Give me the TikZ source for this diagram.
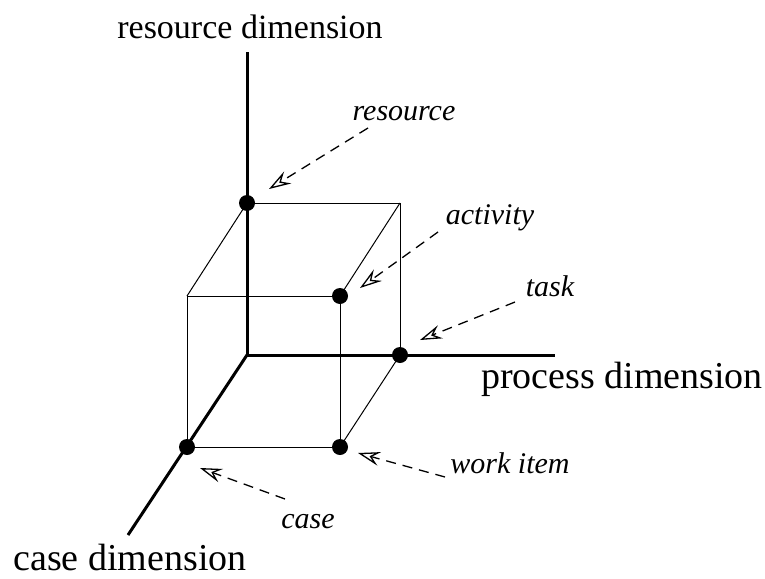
\documentclass[tikz,border=0pt]{standalone}
\usepackage{fontspec}
\setmainfont{Liberation Serif}
\usetikzlibrary{arrows.meta}
\begin{document}
\begin{tikzpicture}[x=1pt,y=-1pt,
  axis/.style={line width=3pt},
  edge/.style={line width=1pt},
  dot/.style={circle,fill=black,inner sep=0pt,minimum size=16pt},
  pointer/.style={dashed,dash pattern=on 10pt off 7pt,line width=1.3pt,
    -{Stealth[open,length=22pt,width=14pt,inset=8pt]}},
  dimlabel/.style={font=\fontsize{38}{42}\selectfont,inner sep=0pt,anchor=base},
  ilabel/.style={font=\fontsize{30}{34}\selectfont\itshape,inner sep=0pt,anchor=base}]
\useasboundingbox (0,0) rectangle (765,578);
% cube corners
\coordinate (O) at (247,355);
\coordinate (RT) at (247,52);
\coordinate (PE) at (555,355);
\coordinate (CE) at (128,535);
\coordinate (B1) at (247,203);
\coordinate (B2) at (400,203);
\coordinate (B3) at (400,355);
\coordinate (F1) at (187,296);
\coordinate (F2) at (340,296);
\coordinate (F3) at (340,447);
\coordinate (F4) at (187,447);
% thin cube edges
\draw[edge] (B1) -- (B2) -- (B3);
\draw[edge] (B1) -- (F1);
\draw[edge] (B2) -- (F2);
\draw[edge] (B3) -- (F3);
\draw[edge] (F1) -- (F2) -- (F3) -- (F4) -- cycle;
% axes
\draw[axis] (O) -- (RT);
\draw[axis] (O) -- (PE);
\draw[axis] (O) -- (CE);
% dots
\node[dot] (dres) at (B1) {};
\node[dot] (dact) at (F2) {};
\node[dot] (dtask) at (B3) {};
\node[dot] (dcase) at (F4) {};
\node[dot] (dwork) at (F3) {};
% axis labels
\node[dimlabel,font=\fontsize{34}{38}\selectfont] (lres) at (250,38) {resource dimension};
\node[dimlabel] (lproc) at (622,388) {process dimension};
\node[dimlabel] (lcase) at (130,570) {case dimension};
% italic labels
\node[ilabel] (tres) at (404,120) {resource};
\node[ilabel] (tact) at (490,224) {activity};
\node[ilabel] (ttask) at (550,296) {task};
\node[ilabel] (twork) at (510,473) {work item};
\node[ilabel] (tcase) at (308,528) {case};
% arrow end points
\coordinate (ares0) at (368,128);
\coordinate (ares1) at (269,189);
\coordinate (aact0) at (438,232);
\coordinate (aact1) at (360,288);
\coordinate (atask0) at (515,302);
\coordinate (atask1) at (420,340);
\coordinate (awork0) at (445,477);
\coordinate (awork1) at (358,453);
\coordinate (acase0) at (285,499);
\coordinate (acase1) at (200,468);
\draw[pointer] (ares0) -- (ares1);
\draw[pointer] (aact0) -- (aact1);
\draw[pointer] (atask0) -- (atask1);
\draw[pointer] (awork0) -- (awork1);
\draw[pointer] (acase0) -- (acase1);
\end{tikzpicture}
\end{document}
